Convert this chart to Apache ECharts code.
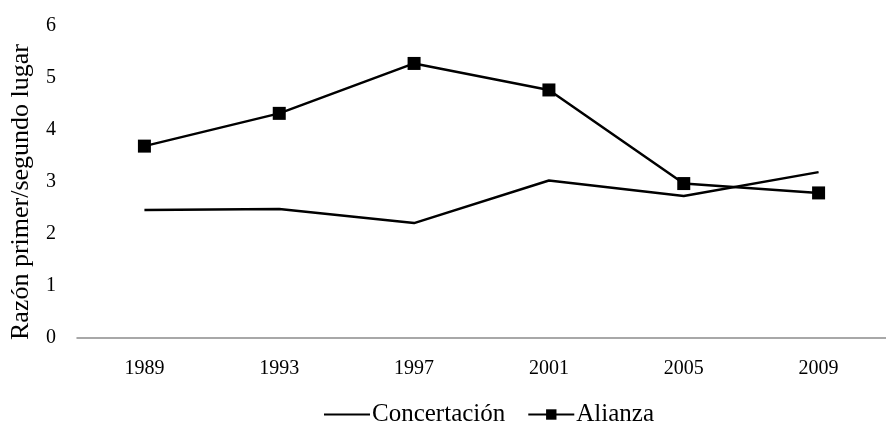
<!DOCTYPE html>
<html><head><meta charset="utf-8">
<script src="https://cdn.jsdelivr.net/npm/echarts@6/dist/echarts.min.js"></script>
<style>html,body{margin:0;padding:0;background:#fff}#c{width:886px;height:423px}</style>
</head><body><div id="c"></div>
<script>
const years = ['1989','1993','1997','2001','2005','2009'];
const concertacion = [2.46, 2.48, 2.21, 3.03, 2.73, 3.19];
const alianza = [3.69, 4.32, 5.28, 4.77, 2.97, 2.79];
const yTitle = 'Razón primer/segundo lugar';
const FONT = 'Liberation Serif';
const chart = echarts.init(document.getElementById('c'), null, {renderer:'canvas'});
chart.setOption({
  animation:false,
  backgroundColor:'#fff',
  textStyle:{fontFamily:FONT, color:'#000'},
  grid:{left:77, right:-11, top:26, bottom:85},
  legend:{
    top:397, left:318, itemWidth:46, itemHeight:13, itemGap:22,
    textStyle:{fontFamily:FONT, fontSize:25, color:'#000', padding:[0,0,0,-3]},
    data:[{name:'Concertación', itemStyle:{opacity:0}}, {name:'Alianza'}]
  },
  xAxis:{
    type:'category', data:years, boundaryGap:true,
    axisLine:{lineStyle:{color:'#8c8c8c', width:1.5}},
    axisTick:{show:false},
    axisLabel:{fontFamily:FONT, fontSize:20, color:'#000', margin:21}
  },
  yAxis:{
    type:'value', min:0, max:6, interval:1,
    name:yTitle, nameLocation:'middle', nameGap:43,
    nameTextStyle:{fontFamily:FONT, fontSize:26, color:'#000', padding:[0,0,0,-20]},
    axisLine:{show:false}, axisTick:{show:false}, splitLine:{show:false},
    axisLabel:{fontFamily:FONT, fontSize:20, color:'#000', margin:21}
  },
  series:[
    {name:'Concertación', type:'line', data:concertacion, symbol:'none',
     lineStyle:{color:'#000', width:2.5}, itemStyle:{color:'#000'}},
    {name:'Alianza', type:'line', data:alianza, symbol:'rect', symbolSize:13,
     lineStyle:{color:'#000', width:2.5}, itemStyle:{color:'#000'}}
  ]
});
</script></body></html>
